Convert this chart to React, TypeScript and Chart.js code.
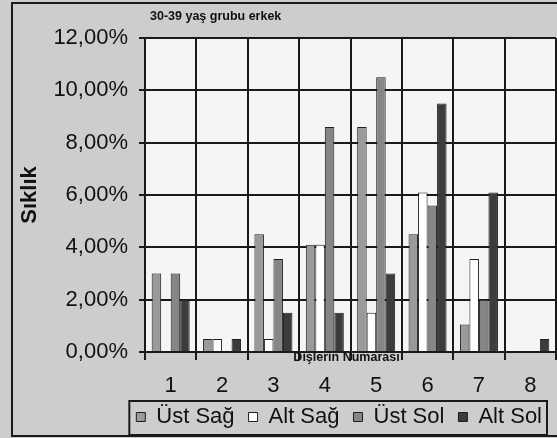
import React, { useEffect, useRef } from "react";
import { Chart, registerables } from "chart.js";

Chart.register(...registerables);

const chartTitle = "30-39 yaş grubu erkek";
const xAxisTitle = "Dişlerin Numarası";
const yAxisTitle = "Sıklık";
const categories = ["1", "2", "3", "4", "5", "6", "7", "8"];
const seriesNames = ["Üst Sağ", "Alt Sağ", "Üst Sol", "Alt Sol"];
const ustSag = [3.0, 0.5, 4.5, 4.1, 8.6, 4.5, 1.05, 0];
const altSag = [0, 0.5, 0.5, 4.1, 1.5, 6.1, 3.55, 0];
const ustSol = [3.0, 0, 3.55, 8.6, 10.5, 5.6, 2.0, 0];
const altSol = [2.0, 0.5, 1.5, 1.5, 3.0, 9.5, 6.1, 0.5];
const yTicks = [0, 2, 4, 6, 8, 10, 12];

const FONT = "'Liberation Sans', Arial, sans-serif";

const decorPlugin = {
  id: "decor",
  beforeDraw(chart: any) {
    const { ctx, chartArea: a, width, height } = chart;
    ctx.save();
    ctx.fillStyle = "#cdcdcd";
    ctx.fillRect(0, 0, width, height);
    ctx.strokeStyle = "#1a1a1a";
    ctx.lineWidth = 2;
    ctx.strokeRect(12, 3, width + 10, 433);
    ctx.fillStyle = "#f5f5f5";
    ctx.fillRect(a.left, a.top, a.right - a.left, a.bottom - a.top);
    ctx.restore();
  },
  afterDraw(chart: any) {
    const { ctx, chartArea: a } = chart;
    ctx.save();
    ctx.fillStyle = "#111";
    ctx.font = `bold 12.5px ${FONT}`;
    ctx.textBaseline = "middle";
    ctx.textAlign = "left";
    ctx.fillText(chartTitle, 150, 17);
    ctx.textAlign = "center";
    ctx.fillText(xAxisTitle, (a.left + a.right) / 2 - 4, 358);
    const lg = chart.legend;
    if (lg && lg.legendHitBoxes && lg.legendHitBoxes.length) {
      const hb = lg.legendHitBoxes;
      const first = hb[0];
      const last = hb[hb.length - 1];
      const x0 = first.left - 7;
      const x1 = last.left + last.width + 5;
      const yc = first.top + first.height / 2;
      ctx.strokeStyle = "#1a1a1a";
      ctx.lineWidth = 2;
      ctx.strokeRect(x0, yc - 16, x1 - x0, 34);
    }
    ctx.restore();
  },
};

export default function App() {
  const ref = useRef<HTMLCanvasElement | null>(null);

  useEffect(() => {
    document.body.style.margin = "0";
    if (!ref.current) return;
    const border = "#1e1e1e";
    const chart = new Chart(ref.current, {
      type: "bar",
      data: {
        labels: categories,
        datasets: [
          { label: seriesNames[0], data: ustSag, backgroundColor: "#9a9a9a", borderColor: border, borderWidth: 1 },
          { label: seriesNames[1], data: altSag, backgroundColor: "#ffffff", borderColor: border, borderWidth: 1 },
          { label: seriesNames[2], data: ustSol, backgroundColor: "#868686", borderColor: border, borderWidth: 1 },
          { label: seriesNames[3], data: altSol, backgroundColor: "#3c3c3c", borderColor: border, borderWidth: 1 },
        ],
      },
      options: {
        animation: false,
        responsive: false,
        maintainAspectRatio: false,
        layout: { padding: { top: 38, right: 1, bottom: 0, left: 0 } },
        datasets: { bar: { categoryPercentage: 0.74, barPercentage: 1 } } as any,
        plugins: {
          title: { display: false },
          tooltip: { enabled: false },
          legend: {
            position: "bottom",
            align: "end",
            labels: {
              boxWidth: 9,
              boxHeight: 9,
              padding: 14,
              color: "#111",
              font: { size: 22, family: FONT },
            },
          },
        },
        scales: {
          x: {
            offset: true,
            grid: { offset: true, color: "#1a1a1a", lineWidth: 2, tickLength: 8, drawTicks: true },
            border: { color: "#1a1a1a", width: 2 },
            ticks: { color: "#111", padding: 13, font: { size: 22, family: FONT }, maxRotation: 0 },
            afterFit: (s: any) => { s.height = 40; },
          },
          y: {
            min: 0,
            max: 12,
            afterBuildTicks: (s: any) => { s.ticks = yTicks.map((v) => ({ value: v })); },
            grid: { color: "#1a1a1a", lineWidth: 2, tickLength: 6 },
            border: { color: "#1a1a1a", width: 2 },
            ticks: {
              color: "#111",
              padding: 11,
              font: { size: 22, family: FONT },
              callback: (v: any) => Number(v).toFixed(2).replace(".", ",") + "%",
            },
            title: {
              display: true,
              text: yAxisTitle,
              color: "#111",
              font: { size: 22, weight: "bold", family: FONT },
              padding: { top: 17, bottom: 0 },
            },
            afterFit: (s: any) => { s.width = 145; },
          },
        },
      },
      plugins: [decorPlugin],
    });
    return () => chart.destroy();
  }, []);

  return (
    <div style={{ width: 557, height: 438, position: "relative" }}>
      <canvas ref={ref} width={557} height={438} style={{ display: "block" }} />
    </div>
  );
}
